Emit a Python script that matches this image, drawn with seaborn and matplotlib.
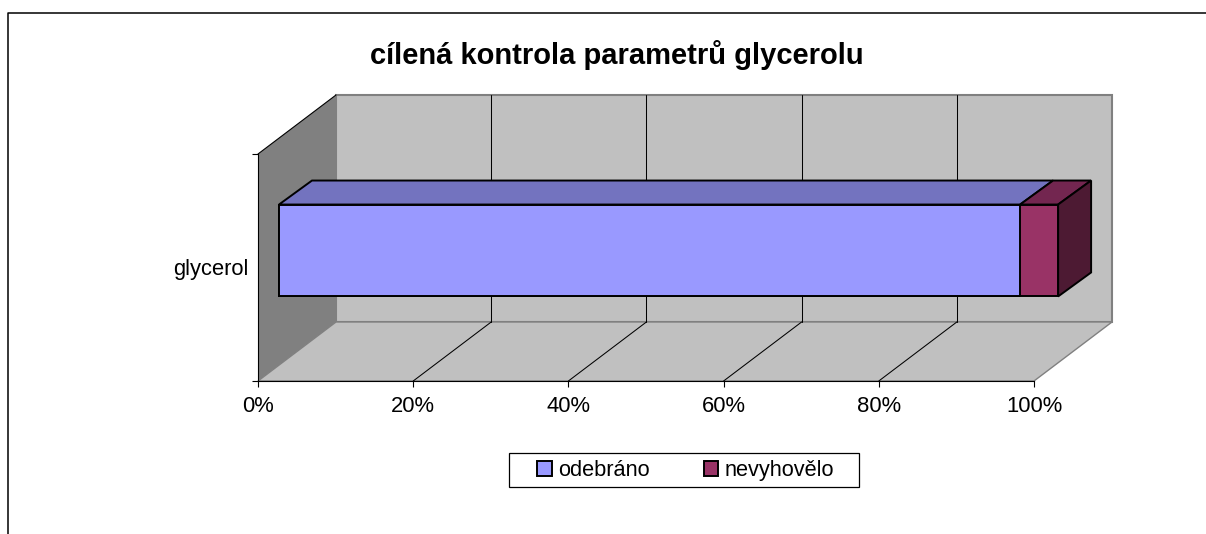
"""Excel style 3D stacked bar: cilena kontrola parametru glycerolu."""

import matplotlib
matplotlib.use("Agg")
import matplotlib.pyplot as plt
import numpy as np
import pandas as pd
import seaborn as sns
from matplotlib.lines import Line2D
from matplotlib.patches import Polygon, Rectangle
from matplotlib.transforms import Affine2D, IdentityTransform

categories = ["glycerol"]
odebrano = [95.5]
nevyhovelo = [4.9]
x_ticks = [0, 20, 40, 60, 80, 100]
title = "cílená kontrola parametrů glycerolu"
series_labels = ["odebráno", "nevyhovělo"]

W, H = 1206, 534
WALL_DEPTH = np.array([78, 59])     # px shift from front plane to back wall
BAR_NEAR = np.array([21, 17])       # front face of bar
BAR_FAR = np.array([54, 41])        # back face of bar
BAR_WIDTH = 0.405
EDGE_LW = 1.4
COL_BLUE = ("#9999FF", "#7373BF")
COL_RED = ("#993366", "#732650", "#4D1A33")

sns.set_style("white")
plt.rcParams["font.family"] = ["Liberation Sans", "DejaVu Sans"]

df = pd.DataFrame({
    "parametr": categories,
    "odebrano": odebrano,
    "celkem": np.add(odebrano, nevyhovelo),
})

fig = plt.figure(figsize=(W / 100, H / 100), dpi=100)
ax = fig.add_axes([258 / W, 1 - 381 / H, 776 / W, 227 / H])
ax.patch.set_visible(False)

# stacked look: total first, first series on top of it
sns.barplot(data=df, x="celkem", y="parametr", color=COL_RED[0], edgecolor="black", saturation=1,
            linewidth=EDGE_LW, width=BAR_WIDTH, ax=ax, label=series_labels[1], zorder=5)
sns.barplot(data=df, x="odebrano", y="parametr", color=COL_BLUE[0], edgecolor="black", saturation=1,
            linewidth=EDGE_LW, width=BAR_WIDTH, ax=ax, label=series_labels[0], zorder=6)
ax.set_xlim(0, 100)
ax.set_ylim(0.5, -0.5)
ax.set_xlabel("")
ax.set_ylabel("")


def pt(x, y, depth):
    return ax.transData.transform((x, y)) + depth


def face(points, color, edge="none", lw=0.0, z=1):
    ax.add_patch(Polygon(points, closed=True, facecolor=color, edgecolor=edge, linewidth=lw,
                         transform=IdentityTransform(), clip_on=False, zorder=z))


def seg(a, b, color="black", lw=0.75, z=2):
    ax.add_line(Line2D([a[0], b[0]], [a[1], b[1]], color=color, linewidth=lw,
                       transform=IdentityTransform(), clip_on=False, zorder=z))


zero = np.array([0, 0])

# walls and floor
face([pt(0, 0.5, zero), pt(0, -0.5, zero), pt(0, -0.5, WALL_DEPTH), pt(0, 0.5, WALL_DEPTH)], "#808080")
face([pt(0, 0.5, WALL_DEPTH), pt(100, 0.5, WALL_DEPTH), pt(100, -0.5, WALL_DEPTH), pt(0, -0.5, WALL_DEPTH)],
     "#C0C0C0", edge="#808080", lw=1.5)
face([pt(0, 0.5, zero), pt(100, 0.5, zero), pt(100, 0.5, WALL_DEPTH), pt(0, 0.5, WALL_DEPTH)],
     "#C0C0C0", edge="#808080", lw=1.0)
seg(pt(0, -0.5, zero), pt(0, -0.5, WALL_DEPTH), lw=0.8, z=2)

# gridlines on floor and back wall
for t in x_ticks[1:-1]:
    seg(pt(t, 0.5, zero), pt(t, 0.5, WALL_DEPTH))
    seg(pt(t, 0.5, WALL_DEPTH), pt(t, -0.5, WALL_DEPTH))

# move the front faces to their depth, add top and side faces
shift = ax.transData + Affine2D().translate(*BAR_NEAR)
for bar in ax.patches:
    if isinstance(bar, Polygon):
        continue
    bar.set_transform(shift)
    bar.set_clip_on(False)

half = BAR_WIDTH / 2
first = odebrano[0]
total = first + nevyhovelo[0]
face([pt(0, -half, BAR_NEAR), pt(first, -half, BAR_NEAR), pt(first, -half, BAR_FAR), pt(0, -half, BAR_FAR)],
     COL_BLUE[1], edge="black", lw=EDGE_LW, z=3)
face([pt(first, -half, BAR_NEAR), pt(total, -half, BAR_NEAR), pt(total, -half, BAR_FAR), pt(first, -half, BAR_FAR)],
     COL_RED[1], edge="black", lw=EDGE_LW, z=3)
face([pt(total, -half, BAR_NEAR), pt(total, half, BAR_NEAR), pt(total, half, BAR_FAR), pt(total, -half, BAR_FAR)],
     COL_RED[2], edge="black", lw=EDGE_LW, z=3)

# axes
sns.despine(ax=ax, top=True, right=True)
for side in ["left", "bottom"]:
    ax.spines[side].set_color("black")
    ax.spines[side].set_linewidth(0.8)
ax.set_xticks(x_ticks)
ax.set_xticklabels([f"{t}%" for t in x_ticks])
ax.set_yticks([-0.5, 0.5], minor=True)
ax.tick_params(axis="y", which="major", length=0, pad=7, labelsize=15.8, labelcolor="black")
ax.tick_params(axis="y", which="minor", left=True, length=4.5, width=0.8, color="black")
ax.tick_params(axis="x", bottom=True, length=4.5, width=0.8, color="black", pad=6, labelsize=15.8,
               labelcolor="black")

fig.text(617 / W, 1 - 55 / H, title, ha="center", va="center", fontsize=21, fontweight="bold", color="black")

# legend box is wider than the entries, so the frame is drawn on its own
fig.add_artist(Rectangle((509 / W, 1 - 487 / H), 350 / W, 34 / H, facecolor="white", edgecolor="black",
                         linewidth=0.9, transform=fig.transFigure, zorder=-1))
bars = [ax.containers[1], ax.containers[0]]
leg = ax.legend(bars, series_labels, ncol=2, loc="center", bbox_to_anchor=(686 / W, 1 - 470.5 / H),
                bbox_transform=fig.transFigure, frameon=False, fontsize=15.7, labelcolor="black",
                handlelength=0.65, handleheight=0.65, handletextpad=0.3,
                columnspacing=2.5, borderpad=0, borderaxespad=0)

# chart frame, cut off by the picture at the bottom and right
fig.add_artist(Line2D([8 / W, 8 / W, 1], [0, 1 - 13 / H, 1 - 13 / H], color="black", linewidth=1.1))

fig.savefig("out.png", dpi=100)
